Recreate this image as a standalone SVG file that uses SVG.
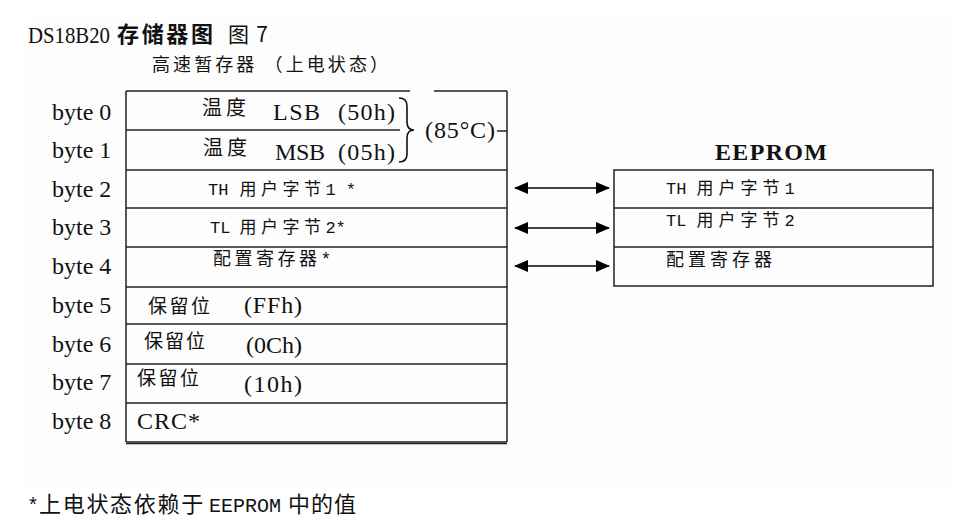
<svg xmlns="http://www.w3.org/2000/svg" width="961" height="525" viewBox="0 0 961 525">
<defs>
<style>
.ser{font-family:"Liberation Serif","Times New Roman",serif;fill:#111;}
.cjk{font-family:"Noto Sans CJK SC","Noto Sans",sans-serif;fill:#111;}
.mono{font-family:"Liberation Mono","Noto Sans CJK SC",monospace;}
.ln{stroke:#222;stroke-width:1.5;fill:none;}
.arr{stroke:#000;stroke-width:1.5;fill:none;marker-start:url(#ah);marker-end:url(#ah);}
</style>
<marker id="ah" viewBox="0 0 14 12" refX="13" refY="6" markerWidth="14" markerHeight="12" markerUnits="userSpaceOnUse" orient="auto-start-reverse">
<path d="M0,0 L14,6 L0,12 Z" fill="#000"/>
</marker>
</defs>
<rect x="0" y="0" width="961" height="525" fill="#fff"/>
<rect x="27" y="20" width="925" height="467" fill="#fdfdfd"/>

<g id="title">
<text class="ser" x="28" y="43" font-size="24" textLength="82" lengthAdjust="spacingAndGlyphs">DS18B20</text>
<text class="cjk" x="117" y="42" font-size="22" font-weight="bold" textLength="96">存储器图</text>
<text class="cjk" x="228" y="42" font-size="21" textLength="40" fill="#333">图 7</text>
<text class="cjk" x="152" y="71" font-size="18" textLength="236">高速暂存器 （上电状态）</text>
</g>

<g id="byte-labels" class="ser" font-size="24">
<text x="52" y="120">byte 0</text>
<text x="52" y="158">byte 1</text>
<text x="52" y="197">byte 2</text>
<text x="52" y="235">byte 3</text>
<text x="52" y="274">byte 4</text>
<text x="52" y="313">byte 5</text>
<text x="52" y="352">byte 6</text>
<text x="52" y="390">byte 7</text>
<text x="52" y="429">byte 8</text>
</g>

<g id="scratchpad">
<path class="ln" d="M126,91 H410 M434,91 H507 M126,91 V442 M507,91 V442 M126,130 H400 M126,170 H507 M126,208 H507 M126,247 H507 M126,287 H507 M126,324 H507 M126,364 H507 M126,403 H507 M126,442 H507"/>
<path class="ln" d="M126,443.5 H507"/>
<path d="M399,98 Q407,98 407,106 L407,122 Q407,130 414,130 Q407,130 407,138 L407,154 Q407,162 399,162" stroke="#111" stroke-width="1.6" fill="none"/>
<text class="ser" x="425" y="138" font-size="24" textLength="70">(85°C)</text>
<path class="ln" d="M497,131 H507"/>
</g>

<g id="byte0">
<text class="cjk" x="202" y="115" font-size="20" letter-spacing="4">温度</text>
<text class="ser" x="273" y="120" font-size="24" textLength="47">LSB</text>
<text class="ser" x="338" y="120" font-size="24" textLength="57">(50h)</text>
</g>
<g id="byte1">
<text class="cjk" x="203" y="155" font-size="20" letter-spacing="4">温度</text>
<text class="ser" x="275" y="160" font-size="24" textLength="50">MSB</text>
<text class="ser" x="338" y="160" font-size="24" textLength="57">(05h)</text>
</g>
<g id="byte2" class="cjk" font-size="17">
<text x="208" y="195"><tspan class="mono">TH</tspan><tspan dx="11" letter-spacing="4.5">用户字节</tspan><tspan class="mono">1 *</tspan></text>
</g>
<g id="byte3" class="cjk" font-size="17">
<text x="210" y="233"><tspan class="mono">TL</tspan><tspan dx="9" letter-spacing="4.5">用户字节</tspan><tspan class="mono">2*</tspan></text>
</g>
<g id="byte4" class="cjk" font-size="18">
<text x="213" y="265"><tspan letter-spacing="3.5">配置寄存器</tspan><tspan class="mono">*</tspan></text>
</g>
<g id="byte5">
<text class="cjk" x="148" y="313" font-size="19" textLength="62">保留位</text>
<text class="ser" x="244" y="313" font-size="24" textLength="58">(FFh)</text>
</g>
<g id="byte6">
<text class="cjk" x="144" y="348" font-size="19" textLength="61">保留位</text>
<text class="ser" x="246" y="353" font-size="24" textLength="56">(0Ch)</text>
</g>
<g id="byte7">
<text class="cjk" x="137" y="385" font-size="19" textLength="62">保留位</text>
<text class="ser" x="244" y="392" font-size="24" textLength="58">(10h)</text>
</g>
<g id="byte8">
<text class="ser" x="137" y="429" font-size="24" textLength="63">CRC*</text>
</g>

<g id="eeprom">
<text class="ser" x="715" y="160" font-size="24" font-weight="bold" textLength="112">EEPROM</text>
<path class="ln" d="M614,170 H933 V286 H614 Z M614,208 H933 M614,247 H933"/>
<text class="cjk" x="666" y="194" font-size="17"><tspan class="mono">TH</tspan><tspan dx="10" letter-spacing="5">用户字节</tspan><tspan class="mono">1</tspan></text>
<text class="cjk" x="666" y="226" font-size="17"><tspan class="mono">TL</tspan><tspan dx="10" letter-spacing="5">用户字节</tspan><tspan class="mono">2</tspan></text>
<text class="cjk" x="666" y="266" font-size="18" letter-spacing="4">配置寄存器</text>
</g>

<g id="connectors">
<line class="arr" x1="515" y1="188" x2="609" y2="188"/>
<line class="arr" x1="515" y1="228" x2="609" y2="228"/>
<line class="arr" x1="515" y1="266" x2="609" y2="266"/>
</g>

<g id="footnote" class="cjk" font-size="22">
<text x="27" y="512"><tspan class="mono" font-size="20">*</tspan><tspan letter-spacing="1.7">上电状态依赖于</tspan><tspan class="mono" dx="4" font-size="20">EEPROM</tspan><tspan dx="7" letter-spacing="1">中的值</tspan></text>
</g>
</svg>
